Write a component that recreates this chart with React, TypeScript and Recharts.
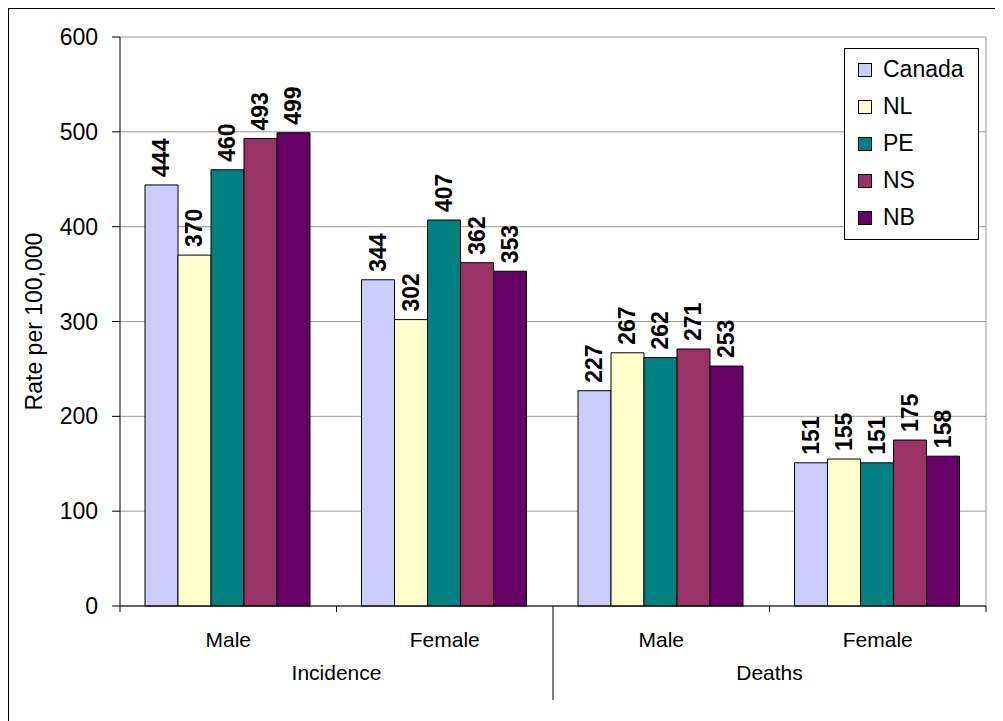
import React from 'react';
import { BarChart, Bar, XAxis, YAxis, CartesianGrid, LabelList } from 'recharts';

// Rates per 100,000, grouped by measure and sex
const categories = ['Male', 'Female', 'Male', 'Female'];
const groups = ['Incidence', 'Incidence', 'Deaths', 'Deaths'];
const canada = [444, 344, 227, 151];
const nl = [370, 302, 267, 155];
const pe = [460, 407, 262, 151];
const ns = [493, 362, 271, 175];
const nb = [499, 353, 253, 158];
const yTicks = [0, 100, 200, 300, 400, 500, 600];

const series = [
  { key: 'Canada', values: canada, color: '#CCCCFF' },
  { key: 'NL', values: nl, color: '#FFFFCC' },
  { key: 'PE', values: pe, color: '#008080' },
  { key: 'NS', values: ns, color: '#993366' },
  { key: 'NB', values: nb, color: '#660066' },
];

const data = categories.map((name, i) => {
  const row: Record<string, string | number> = { name, group: groups[i] };
  series.forEach(s => { row[s.key] = s.values[i]; });
  return row;
});

const FONT = "Arial, 'Liberation Sans', sans-serif";
const CHART_W = 994;
const CHART_H = 712;
const MARGIN = { top: 28, right: 17, bottom: 0, left: 51 };
const Y_AXIS_W = 60;
const X_AXIS_H = 115;
const PLOT_LEFT = MARGIN.left + Y_AXIS_W;
const PLOT_RIGHT = CHART_W - MARGIN.right;
const BAND = (PLOT_RIGHT - PLOT_LEFT) / categories.length;

// Two-level category axis: sex on the first row, measure below, with boundary ticks
const CategoryTick = (props: any) => {
  const { x, y, index, payload } = props;
  const left = x - BAND / 2;
  const right = x + BAND / 2;
  const isGroupStart = index % 2 === 0;
  return (
    <g>
      <line x1={left} y1={y} x2={left} y2={y + (index === 2 ? 94 : 6)} stroke="#000" />
      {index === categories.length - 1 && (
        <line x1={right} y1={y} x2={right} y2={y + 6} stroke="#000" />
      )}
      <text x={x} y={y + 33} textAnchor="middle" dominantBaseline="central"
        fontSize={21} fontFamily={FONT} fill="#000">
        {payload.value}
      </text>
      {isGroupStart && (
        <text x={right} y={y + 66} textAnchor="middle" dominantBaseline="central"
          fontSize={21} fontFamily={FONT} fill="#000">
          {groups[index]}
        </text>
      )}
    </g>
  );
};

const ValueLabel = (props: any) => {
  const { x, y, width, value } = props;
  const cx = x + width / 2;
  const ty = y - 8;
  return (
    <text x={cx} y={ty} transform={`rotate(-90, ${cx}, ${ty})`} textAnchor="start"
      dominantBaseline="central" fontSize={23} fontWeight="bold" fontFamily={FONT} fill="#000">
      {value}
    </text>
  );
};

const YTitle = (props: any) => {
  const { viewBox } = props;
  const cx = 25;
  const cy = viewBox.y + viewBox.height / 2;
  return (
    <text x={cx} y={cy} transform={`rotate(-90, ${cx}, ${cy})`} textAnchor="middle"
      dominantBaseline="central" fontSize={23} fontFamily={FONT} fill="#000">
      Rate per 100,000
    </text>
  );
};

const LegendBox = () => (
  <div style={{
    position: 'absolute', left: 835, top: 39, width: 135, height: 192,
    boxSizing: 'border-box', border: '1px solid #000', background: '#fff',
    fontFamily: FONT, fontSize: 23, color: '#000',
  }}>
    {series.map((s, i) => (
      <div key={s.key} style={{
        position: 'absolute', left: 13, top: 2 + i * 37, height: 37,
        display: 'flex', alignItems: 'center',
      }}>
        <span style={{
          width: 14, height: 14, boxSizing: 'border-box', border: '1px solid #000',
          background: s.color, marginRight: 11,
        }} />
        <span style={{ lineHeight: '37px' }}>{s.key}</span>
      </div>
    ))}
  </div>
);

export default function App() {
  return (
    <div style={{
      position: 'relative', width: CHART_W, height: CHART_H + 1,
      borderTop: '1px solid #000', borderLeft: '1px solid #000', background: '#fff',
    }}>
      <BarChart width={CHART_W} height={CHART_H} data={data} margin={MARGIN}
        barCategoryGap={25} barGap={0}>
        <CartesianGrid stroke="#999" vertical verticalPoints={[PLOT_RIGHT]} />
        <XAxis dataKey="name" height={X_AXIS_H} interval={0} tickSize={0} tickMargin={0}
          tickLine={false} axisLine={{ stroke: '#000' }} tick={<CategoryTick />} />
        <YAxis width={Y_AXIS_W} domain={[0, 600]} ticks={yTicks} interval={0}
          tickSize={8} tickMargin={14} axisLine={{ stroke: '#000' }} tickLine={{ stroke: '#000' }}
          tick={{ fontSize: 23, fontFamily: FONT, fill: '#000' }}
          label={<YTitle />} />
        {series.map(s => (
          <Bar key={s.key} dataKey={s.key} fill={s.color} stroke="#000" strokeWidth={1}
            isAnimationActive={false}>
            <LabelList dataKey={s.key} content={<ValueLabel />} />
          </Bar>
        ))}
      </BarChart>
      <LegendBox />
    </div>
  );
}
